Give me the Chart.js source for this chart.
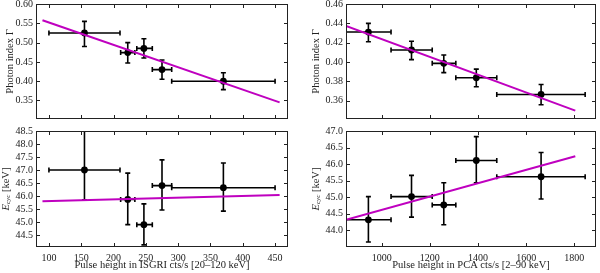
<!DOCTYPE html>
<html>
<head>
<meta charset="utf-8">
<script src="https://cdn.jsdelivr.net/npm/chart.js@4.4.0/dist/chart.umd.min.js"></script>
<style>
  body { margin: 0; background: #fff; }
  .panel { position: absolute; }
</style>
</head>
<body>
<div class="panel" style="left:0;top:0"><canvas id="c1" width="300" height="125"></canvas></div>
<div class="panel" style="left:300px;top:0"><canvas id="c2" width="300" height="125"></canvas></div>
<div class="panel" style="left:0;top:125px"><canvas id="c3" width="300" height="148"></canvas></div>
<div class="panel" style="left:300px;top:125px"><canvas id="c4" width="300" height="148"></canvas></div>
<script>
// ISGRI pulse height bins (cts/s, 20-120 keV)
var isgriX   = [155, 222, 247, 275, 370];
var isgriXlo = [100, 211, 236, 260, 290];
var isgriXhi = [210, 233, 260, 290, 450];
// PCA pulse height bins (cts/s, 2-90 keV)
var pcaX   = [945, 1124, 1258, 1393, 1662];
var pcaXlo = [852, 1039, 1210, 1308, 1478];
var pcaXhi = [1039, 1210, 1308, 1478, 1845];

// photon index
var gammaIsgri   = [0.525, 0.474, 0.485, 0.430, 0.400];
var gammaIsgriLo = [0.490, 0.447, 0.460, 0.405, 0.378];
var gammaIsgriHi = [0.555, 0.500, 0.510, 0.455, 0.422];
var gammaPca   = [0.431, 0.4124, 0.3986, 0.3837, 0.3664];
var gammaPcaLo = [0.421, 0.4024, 0.389, 0.3744, 0.3557];
var gammaPcaHi = [0.440, 0.4214, 0.4072, 0.3926, 0.3767];

// cyclotron energy
var ecycIsgri   = [47.0, 45.87, 44.9, 46.40, 46.32];
var ecycIsgriLo = [45.85, 44.9, 44.12, 45.46, 45.42];
var ecycIsgriHi = [48.6, 46.88, 45.70, 47.39, 47.27];
var ecycPca   = [44.32, 45.02, 44.77, 46.11, 45.62];
var ecycPcaLo = [43.65, 44.40, 44.17, 45.44, 44.95];
var ecycPcaHi = [45.02, 45.66, 45.44, 46.83, 46.35];

// linear fits (end points)
var fitIsgriX = [90, 457];
var fitGammaIsgri = [0.558, 0.345];
var fitEcycIsgri = [45.80, 46.04];
var fitPcaX = [852, 1804];
var fitGammaPca = [0.4372, 0.3497];
var fitEcycPca = [44.32, 46.24];

// ticks
var isgriTicks = [100, 150, 200, 250, 300, 350, 400, 450];
var pcaTicks = [1000, 1200, 1400, 1600, 1800];
var gammaIsgriTicks = [0.35, 0.40, 0.45, 0.50, 0.55, 0.60];
var gammaPcaTicks = [0.36, 0.38, 0.40, 0.42, 0.44, 0.46];
var ecycIsgriTicks = [44.5, 45.0, 45.5, 46.0, 46.5, 47.0, 47.5, 48.0, 48.5];
var ecycPcaTicks = [44.0, 44.5, 45.0, 45.5, 46.0, 46.5, 47.0];

var FONT = "'Liberation Serif', 'DejaVu Serif', serif";
var TXT = '#222';

// error bars under the points
const errBarPlugin = {
    id: 'errbars',
    beforeDatasetsDraw(chart, args, o) {
        const ctx = chart.ctx, a = chart.chartArea;
        const xs = chart.scales.x, ys = chart.scales.y;
        ctx.save();
        ctx.beginPath();
        ctx.rect(a.left, a.top, a.right - a.left, a.bottom - a.top);
        ctx.clip();
        ctx.strokeStyle = '#000';
        ctx.lineWidth = 1.6;
        const cap = 2.5;
        o.x.forEach((xv, i) => {
            const px = xs.getPixelForValue(xv), py = ys.getPixelForValue(o.y[i]);
            const x0 = xs.getPixelForValue(o.xlo[i]), x1 = xs.getPixelForValue(o.xhi[i]);
            const y0 = ys.getPixelForValue(o.ylo[i]), y1 = ys.getPixelForValue(o.yhi[i]);
            ctx.beginPath();
            ctx.moveTo(x0, py); ctx.lineTo(x1, py);
            ctx.moveTo(x0, py - cap); ctx.lineTo(x0, py + cap);
            ctx.moveTo(x1, py - cap); ctx.lineTo(x1, py + cap);
            ctx.moveTo(px, y0); ctx.lineTo(px, y1);
            ctx.moveTo(px - cap, y0); ctx.lineTo(px + cap, y0);
            ctx.moveTo(px - cap, y1); ctx.lineTo(px + cap, y1);
            ctx.stroke();
        });
        ctx.restore();
    }
};

// box frame with inward ticks on all four sides, plus E_cyc label
const framePlugin = {
    id: 'frame',
    afterDraw(chart, args, o) {
        const ctx = chart.ctx, a = chart.chartArea;
        const xs = chart.scales.x, ys = chart.scales.y;
        ctx.save();
        ctx.strokeStyle = TXT;
        ctx.lineWidth = 1;
        ctx.strokeRect(Math.round(a.left) + 0.5, Math.round(a.top) + 0.5,
            Math.round(a.right - a.left) - 1, Math.round(a.bottom - a.top) - 1);
        const tl = 4;
        ctx.beginPath();
        xs.ticks.forEach(t => {
            const p = Math.round(xs.getPixelForValue(t.value)) + 0.5;
            ctx.moveTo(p, a.bottom); ctx.lineTo(p, a.bottom - tl);
            ctx.moveTo(p, a.top); ctx.lineTo(p, a.top + tl);
        });
        ys.ticks.forEach(t => {
            const p = Math.round(ys.getPixelForValue(t.value)) + 0.5;
            ctx.moveTo(a.left, p); ctx.lineTo(a.left + tl, p);
            ctx.moveTo(a.right, p); ctx.lineTo(a.right - tl, p);
        });
        ctx.stroke();
        if (o.ecycX) {
            // y label: italic E with subscript "cyc"
            ctx.translate(o.ecycX, (a.top + a.bottom) / 2);
            ctx.rotate(-Math.PI / 2);
            ctx.fillStyle = TXT;
            ctx.textBaseline = 'middle';
            const f1 = 'italic 10.5px ' + FONT, f2 = 'italic 7px ' + FONT, f3 = '10.5px ' + FONT;
            ctx.font = f1; const w1 = ctx.measureText('E').width;
            ctx.font = f2; const w2 = ctx.measureText('cyc').width;
            ctx.font = f3; const w3 = ctx.measureText(' [keV]').width;
            let x = -(w1 + w2 + w3) / 2;
            ctx.font = f1; ctx.fillText('E', x, 0); x += w1;
            ctx.font = f2; ctx.fillText('cyc', x, 2.5); x += w2;
            ctx.font = f3; ctx.fillText(' [keV]', x, 0);
        }
        ctx.restore();
    }
};

function makePanel(id, cfg) {
    const points = cfg.x.map((v, i) => ({ x: v, y: cfg.y[i] }));
    const fit = cfg.fitX.map((v, i) => ({ x: v, y: cfg.fitY[i] }));
    const fixY = s => { s.width = cfg.yWidth; s.paddingTop = 0; s.paddingBottom = 0; };
    const fixX = s => { s.height = cfg.xHeight; s.paddingLeft = 0; s.paddingRight = 0; };
    new Chart(document.getElementById(id), {
        type: 'scatter',
        data: {
            datasets: [
                { type: 'line', data: fit, borderColor: '#bf00bf', borderWidth: 2,
                  pointRadius: 0, fill: false },
                { data: points, backgroundColor: '#000', borderColor: '#000',
                  pointRadius: 3.4, pointBorderWidth: 0 }
            ]
        },
        options: {
            responsive: false,
            animation: false,
            events: [],
            layout: { padding: { top: cfg.padTop, right: cfg.padRight, left: 0, bottom: 0 } },
            plugins: {
                legend: { display: false },
                tooltip: { enabled: false },
                errbars: { x: cfg.x, xlo: cfg.xlo, xhi: cfg.xhi, y: cfg.y, ylo: cfg.ylo, yhi: cfg.yhi },
                frame: { ecycX: cfg.ecycX }
            },
            scales: {
                x: {
                    type: 'linear', min: cfg.xMin, max: cfg.xMax,
                    afterBuildTicks: s => { s.ticks = cfg.xTicks.map(v => ({ value: v })); },
                    afterFit: fixX,
                    grid: { display: false, drawTicks: false },
                    border: { display: false },
                    ticks: { display: cfg.showX, padding: 5, color: TXT, autoSkip: false,
                             font: { family: FONT, size: 10 }, maxRotation: 0,
                             callback: v => String(v) },
                    title: { display: cfg.showX, text: cfg.xTitle, color: TXT,
                             font: { family: FONT, size: 10.5 }, padding: { top: 0, bottom: 1 } }
                },
                y: {
                    type: 'linear', min: cfg.yMin, max: cfg.yMax,
                    afterBuildTicks: s => { s.ticks = cfg.yTicks.map(v => ({ value: v })); },
                    afterFit: fixY,
                    grid: { display: false, drawTicks: false },
                    border: { display: false },
                    ticks: { padding: 3, color: TXT, autoSkip: false, font: { family: FONT, size: 10 },
                             callback: v => v.toFixed(cfg.yDec) },
                    title: { display: !cfg.ecycX, text: 'Photon index Γ', color: TXT,
                             font: { family: FONT, size: 10.5 }, padding: { top: cfg.yTitlePad, bottom: 0 } }
                }
            }
        },
        plugins: [errBarPlugin, framePlugin]
    });
}

makePanel('c1', {
    x: isgriX, xlo: isgriXlo, xhi: isgriXhi, y: gammaIsgri, ylo: gammaIsgriLo, yhi: gammaIsgriHi,
    fitX: fitIsgriX, fitY: fitGammaIsgri, xMin: 80, xMax: 470, yMin: 0.302, yMax: 0.60,
    xTicks: isgriTicks, yTicks: gammaIsgriTicks, yDec: 2, showX: false, xTitle: '',
    yWidth: 36, xHeight: 6, padTop: 4, padRight: 12, yTitlePad: 4
});
makePanel('c2', {
    x: pcaX, xlo: pcaXlo, xhi: pcaXhi, y: gammaPca, ylo: gammaPcaLo, yhi: gammaPcaHi,
    fitX: fitPcaX, fitY: fitGammaPca, xMin: 852, xMax: 1890, yMin: 0.341, yMax: 0.46,
    xTicks: pcaTicks, yTicks: gammaPcaTicks, yDec: 2, showX: false, xTitle: '',
    yWidth: 46, xHeight: 6, padTop: 4, padRight: 3, yTitlePad: 10
});
makePanel('c3', {
    x: isgriX, xlo: isgriXlo, xhi: isgriXhi, y: ecycIsgri, ylo: ecycIsgriLo, yhi: ecycIsgriHi,
    fitX: fitIsgriX, fitY: fitEcycIsgri, xMin: 80, xMax: 470, yMin: 44.04, yMax: 48.5,
    xTicks: isgriTicks, yTicks: ecycIsgriTicks, yDec: 1, showX: true,
    xTitle: 'Pulse height in ISGRI cts/s [20–120 keV]',
    yWidth: 36, xHeight: 26, padTop: 6, padRight: 12, ecycX: 6
});
makePanel('c4', {
    x: pcaX, xlo: pcaXlo, xhi: pcaXhi, y: ecycPca, ylo: ecycPcaLo, yhi: ecycPcaHi,
    fitX: fitPcaX, fitY: fitEcycPca, xMin: 852, xMax: 1890, yMin: 43.5, yMax: 47.0,
    xTicks: pcaTicks, yTicks: ecycPcaTicks, yDec: 1, showX: true,
    xTitle: 'Pulse height in PCA cts/s [2–90 keV]',
    yWidth: 46, xHeight: 26, padTop: 6, padRight: 3, ecycX: 16
});
</script>
</body>
</html>
